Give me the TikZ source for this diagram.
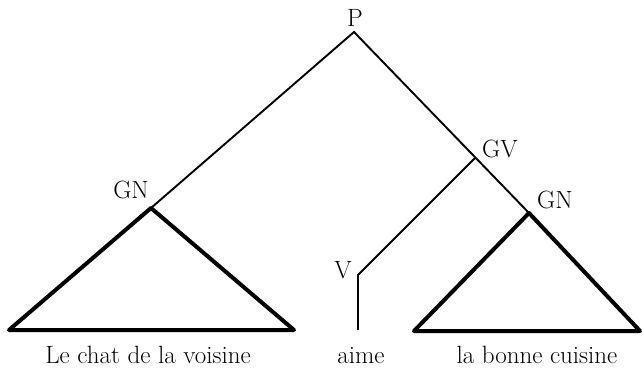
\documentclass[tikz,border=0pt]{standalone}
\usepackage{tikz}
\usetikzlibrary{positioning}

\begin{document}
\begin{tikzpicture}[x=1pt,y=-1pt,
          every node/.style={font=\fontsize{25}{29}\selectfont,inner sep=0pt},
          lbl/.style={anchor=base},
          branch/.style={line width=1.9pt},
          subtree/.style={line width=4pt,line join=round},
      ]
        \useasboundingbox (0,0) rectangle (642,369);

        \coordinate (p) at (354,32);
        \coordinate (gn1) at (151,208);
        \coordinate (gv) at (475,158);
        \coordinate (gn2) at (529,213);
        \coordinate (v) at (358,275);
        \coordinate (vend) at (358,330);

        \coordinate (gn1l) at (9,330);
        \coordinate (gn1r) at (294,330);
        \coordinate (gn2l) at (414,331);
        \coordinate (gn2r) at (640,331);

        \node[lbl] (plbl) at (355,27) {P};
        \node[lbl] (gn1lbl) at (131,198) {GN};
        \node[lbl,anchor=base west] (gvlbl) at (482,157) {GV};
        \node[lbl,anchor=base west] (gn2lbl) at (537,208) {GN};
        \node[lbl] (vlbl) at (343,278) {V};

        \draw[branch] (gn1) -- (p) -- (gn2);
        \draw[branch] (gv) -- (v) -- (vend);

        \draw[subtree] (gn1) -- (gn1l) -- (gn1r) -- cycle;
        \draw[subtree] (gn2) -- (gn2l) -- (gn2r) -- cycle;

        \node[lbl] (w1) at (148,363) {Le chat de la voisine};
        \node[lbl] (w2) at (361,363) {aime};
        \node[lbl] (w3) at (537,363) {la bonne cuisine};
      \end{tikzpicture}
\end{document}
